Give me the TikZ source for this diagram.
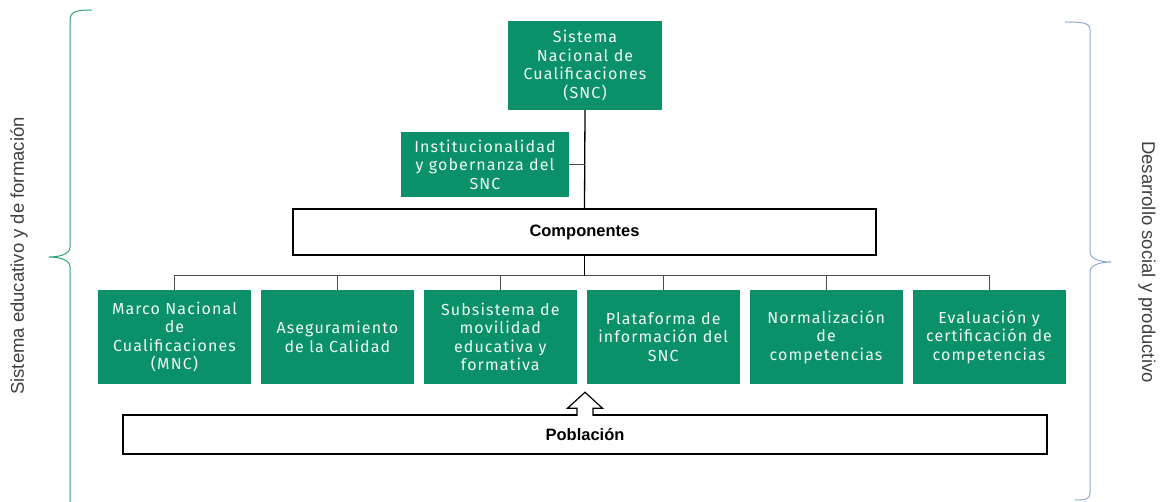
\documentclass[tikz,border=0pt]{standalone}
\usepackage{fontspec}
\setmainfont{Liberation Sans}
\newfontfamily\boxfont[LetterSpace=7]{Fira Sans}
\usetikzlibrary{calc,positioning}

\definecolor{sncgreen}{RGB}{10,145,106}
\definecolor{snctext}{RGB}{240,248,244}
\definecolor{bracegreen}{RGB}{46,163,124}
\definecolor{braceblue}{RGB}{142,170,219}

\begin{document}
\begin{tikzpicture}[
    x=1pt, y=-1pt,
    node distance=9.5pt,
    every node/.style={align=center, inner sep=0pt},
    greenbox/.style={fill=sncgreen, text=snctext, font=\boxfont\fontsize{16}{18.5}\selectfont, minimum width=153pt, minimum height=94pt},
    whitebox/.style={draw=black, line width=1.5pt, fill=white, font=\bfseries\fontsize{16.5}{18}\selectfont},
    trunk/.style={draw=black, line width=1.3pt},
    busline/.style={draw=black!70, line width=0.9pt},
    sidetext/.style={text=black!75, font=\fontsize{18.5}{20}\selectfont}
]
\useasboundingbox (0,0) rectangle (1161,502);

% --- Top ---
\node[greenbox, minimum width=154pt, minimum height=89pt] (snc) at (585,65.5)
    {Sistema\\Nacional de\\Cualificaciones\\(SNC)};
\node[greenbox, minimum width=168pt, minimum height=65pt] (inst) at (485,164.5)
    {Institucionalidad\\y gobernanza del\\SNC};
\node[whitebox, minimum width=583pt, minimum height=46pt] (comp) at (584.5,232) {Componentes};

% --- Components ---
\node[greenbox] (c1) at (174.5,337) {Marco Nacional\\de\\Cualificaciones\\(MNC)};
\node[greenbox, right=of c1] (c2) {Aseguramiento\\de la Calidad};
\node[greenbox, right=of c2] (c3) {Subsistema de\\movilidad\\educativa y\\formativa};
\node[greenbox, right=of c3] (c4) {Plataforma de\\información del\\SNC};
\node[greenbox, right=of c4] (c5) {Normalización\\de\\competencias};
\node[greenbox, right=of c5] (c6) {Evaluación y\\certificación de\\competencias};

\node[whitebox, minimum width=924pt, minimum height=39pt] (pob) at (585,434.5) {Población};

% --- Connectors ---
\draw[trunk] (snc.south) -- (comp.north);
\draw[busline] (inst.east) -- (inst.east -| snc.south);
\coordinate (bus) at ($(comp.south)+(0,20)$);
\foreach \n in {c1,c2,c3,c4,c5,c6}
    \draw[busline] (\n.north) |- (bus);
\draw[trunk] (comp.south) -- (bus);
\filldraw[fill=white, draw=black, line width=1.2pt, line join=miter]
    (pob.north) ++(-8,1.5) -- ++(0,-7.5) -- ++(-9.5,0) -- ++(17.5,-16)
    -- ++(17.5,16) -- ++(-9.5,0) -- ++(0,7.5);

% --- Braces ---
\draw[bracegreen, line width=1pt]
    (92,10) .. controls (78,10) and (70,11) .. (70,20) -- (70,247)
    .. controls (70,254) and (60,257) .. (49,257)
    .. controls (60,257) and (70,260) .. (70,267) -- (70,503);
\draw[braceblue, line width=1pt]
    (1065,22) .. controls (1084,22) and (1090,23) .. (1090,30) -- (1090,252)
    .. controls (1090,259) and (1100,262) .. (1111,262)
    .. controls (1100,262) and (1090,265) .. (1090,272) -- (1090,493)
    .. controls (1090,499) and (1086,500) .. (1075,500);

% --- Side labels ---
\node[sidetext, rotate=90] (edu) at (19,256) {Sistema educativo y de formación};
\node[sidetext, rotate=-90] (soc) at (1147,262) {Desarrollo social y productivo};

\end{tikzpicture}
\end{document}
